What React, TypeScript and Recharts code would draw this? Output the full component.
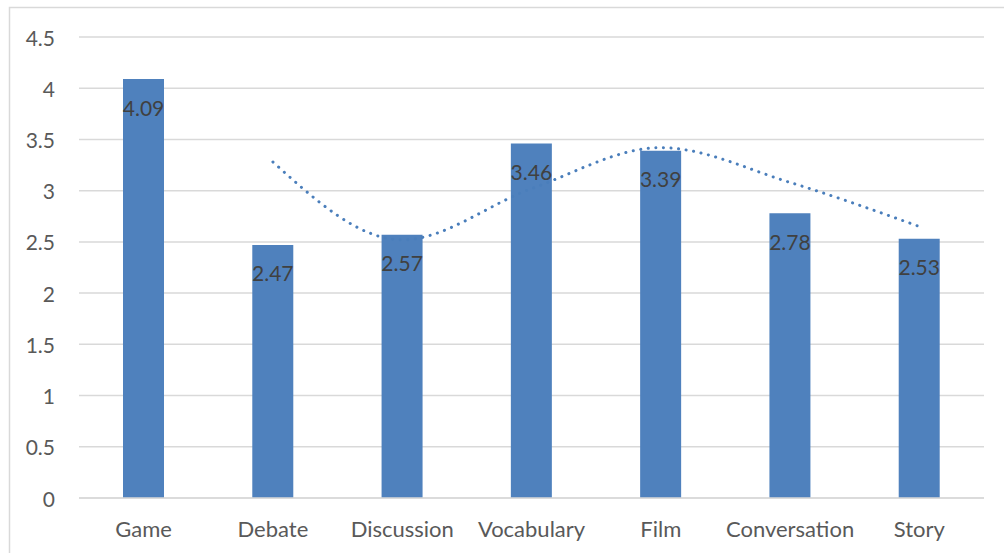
import React from 'react';
import { ComposedChart, Bar, Line, XAxis, YAxis, CartesianGrid, LabelList } from 'recharts';

const categories = ['Game', 'Debate', 'Discussion', 'Vocabulary', 'Film', 'Conversation', 'Story'];
const scores = [4.09, 2.47, 2.57, 3.46, 3.39, 2.78, 2.53];
const trend: (number | null)[] = [null, 3.28, 2.52, 3.02, 3.42, 3.08, 2.65];
const yTicks = [0, 0.5, 1, 1.5, 2, 2.5, 3, 3.5, 4, 4.5];

const data = categories.map((c, i) => ({ name: c, score: scores[i], trend: trend[i] }));

const FONT = 'Lato, "Open Sans", sans-serif';

const YTick = (props: any) => {
  const { x, y, payload } = props;
  return (
    <text x={x} y={y} textAnchor="end" dominantBaseline="central" fill="#595959" fontSize={21} fontFamily={FONT}>
      {String(payload.value)}
    </text>
  );
};

const XTick = (props: any) => {
  const { x, y, payload } = props;
  return (
    <text x={x} y={y + 22} textAnchor="middle" dominantBaseline="central" fill="#595959" fontSize={22} fontFamily={FONT}>
      {payload.value}
    </text>
  );
};

const BarLabel = (props: any) => {
  const { x, y, width, value } = props;
  return (
    <text x={x + width / 2} y={y + 28} textAnchor="middle" dominantBaseline="central" fill="#404040" fontSize={21} fontFamily={FONT}>
      {value}
    </text>
  );
};

export default function App() {
  return (
    <div style={{ position: 'absolute', left: 0, top: 0, width: 1004, height: 553, background: '#fff', overflow: 'hidden' }}>
      <svg style={{ position: 'absolute', left: 0, top: 0 }} width={1004} height={553}>
        <rect x={9.5} y={7.5} width={1100} height={700} fill="none" stroke="#d9d9d9" strokeWidth={1.5} />
      </svg>
      <div style={{ position: 'absolute', left: 0, top: 0 }}>
        <ComposedChart width={1004} height={553} data={data} margin={{ top: 37, right: 20, bottom: 25, left: 0 }}>
          <CartesianGrid vertical={false} stroke="#d9d9d9" strokeWidth={1.5} />
          <XAxis dataKey="name" axisLine={{ stroke: '#d9d9d9', strokeWidth: 1.5 }} tickLine={false} tick={<XTick />} interval={0} />
          <YAxis width={79} domain={[0, 4.5]} ticks={yTicks} axisLine={false} tickLine={false} tick={<YTick />} tickMargin={18} />
          <Bar dataKey="score" fill="#4f81bd" barSize={41} isAnimationActive={false}>
            <LabelList dataKey="score" content={<BarLabel />} />
          </Bar>
          <Line
            dataKey="trend"
            type="monotone"
            stroke="#4a7ebb"
            strokeWidth={3}
            strokeDasharray="0.1 7.5"
            strokeLinecap="round"
            dot={false}
            activeDot={false}
            isAnimationActive={false}
          />
        </ComposedChart>
      </div>
    </div>
  );
}
